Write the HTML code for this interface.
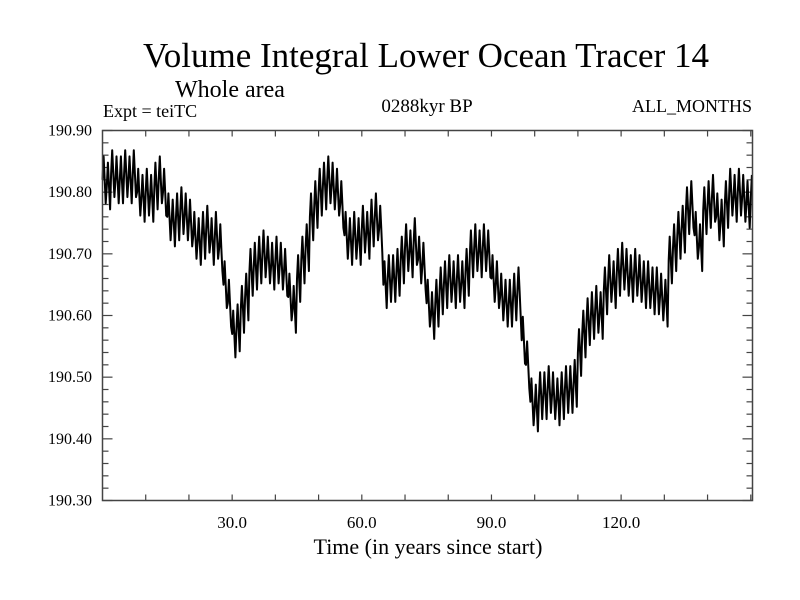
<!DOCTYPE html>
<html><head><meta charset="utf-8"><style>
html,body{margin:0;padding:0;background:#fff;}
svg{display:block;font-family:"Liberation Serif",serif;}
</style></head><body>
<svg id="chart" width="800" height="600" viewBox="0 0 800 600">
<rect width="800" height="600" fill="#fff"/>
<text x="426" y="67" font-size="35" text-anchor="middle">Volume Integral Lower Ocean Tracer 14</text>
<text x="175" y="97" font-size="24">Whole area</text>
<text x="103" y="117" font-size="18">Expt = teiTC</text>
<text x="427" y="112" font-size="19" text-anchor="middle">0288kyr BP</text>
<text x="752" y="112" font-size="18" text-anchor="end">ALL_MONTHS</text>
<g id="axes"></g>
<path id="series" fill="none" stroke="#000" stroke-width="2" stroke-linejoin="round"/>
<rect x="102.5" y="130.5" width="650" height="370" fill="none" stroke="#444" stroke-width="1.5"/>
<text x="428" y="554" font-size="22" text-anchor="middle">Time (in years since start)</text>
</svg>
<script>
const yearlyMeans = [190.82,190.81,190.83,190.82,190.82,190.83,190.82,190.83,190.80,190.79,190.80,190.79,190.81,190.82,190.80,190.76,190.75,190.76,190.77,190.76,190.75,190.73,190.72,190.73,190.74,190.72,190.73,190.71,190.65,190.62,190.57,190.58,190.61,190.63,190.67,190.68,190.69,190.70,190.69,190.68,190.69,190.68,190.67,190.63,190.61,190.66,190.69,190.71,190.76,190.78,190.80,190.81,190.82,190.81,190.80,190.78,190.73,190.72,190.73,190.72,190.74,190.73,190.75,190.76,190.74,190.65,190.66,190.66,190.67,190.69,190.71,190.70,190.72,190.69,190.68,190.62,190.60,190.62,190.64,190.65,190.66,190.65,190.66,190.65,190.67,190.70,190.71,190.70,190.71,190.70,190.66,190.65,190.63,190.62,190.62,190.63,190.64,190.56,190.52,190.46,190.45,190.47,190.47,190.48,190.47,190.46,190.47,190.48,190.48,190.49,190.54,190.57,190.59,190.60,190.61,190.60,190.64,190.66,190.65,190.67,190.68,190.67,190.66,190.67,190.66,190.65,190.65,190.64,190.64,190.63,190.62,190.69,190.71,190.73,190.74,190.77,190.78,190.73,190.71,190.77,190.78,190.79,190.76,190.75,190.78,190.80,190.79,190.80,190.79,190.78,190.79];
const seasonalAmp = [0.038];
const xTicks = [30, 60, 90, 120];
const xTickLabels = ["30.0", "60.0", "90.0", "120.0"];
const yTicks = [190.30, 190.40, 190.50, 190.60, 190.70, 190.80, 190.90];
const yTickLabels = ["190.30", "190.40", "190.50", "190.60", "190.70", "190.80", "190.90"];

const L=102.5, R=752.5, T=130.5, B=500.5;
const X0=0, X1=150.4, Y0=190.30, Y1=190.90;
const sx = v => L + (v - X0) / (X1 - X0) * (R - L);
const sy = v => B - (v - Y0) / (Y1 - Y0) * (B - T);
const NS = "http://www.w3.org/2000/svg";
const axes = document.getElementById('axes');
function mk(tag, attrs){ const e=document.createElementNS(NS,tag); for(const k in attrs) e.setAttribute(k,attrs[k]); axes.appendChild(e); return e; }

for (let v = 10; v < X1; v += 10) {
  const x = sx(v);
  const t1 = mk('line',{x1:x,y1:B,x2:x,y2:B-6,stroke:'#444','stroke-width':1.2});
  
  
  const t2 = mk('line',{x1:x,y1:T,x2:x,y2:T+6,stroke:'#444','stroke-width':1.2});
  
  
}
xTicks.forEach((v,i)=>{
  const t = mk('text',{x:sx(v),y:528,'font-size':17,'text-anchor':'middle'});
  t.textContent = xTickLabels[i];
  
  
});
for (let k = 0; k <= 30; k++) {
  const v = Y0 + k*0.02, y = sy(v), major = k%5===0;
  const a = mk('line',{x1:L,y1:y,x2:L+(major?10:6),y2:y,stroke:'#444','stroke-width':1.2});
  
  
  const b = mk('line',{x1:R,y1:y,x2:R-(major?10:6),y2:y,stroke:'#444','stroke-width':1.2});
  
  
}
yTicks.forEach((v,i)=>{
  const t = mk('text',{x:92,y:sy(v)+5,'font-size':16,'text-anchor':'end'});
  t.textContent = yTickLabels[i];
  
  
});

let d = '';
const amp = seasonalAmp[0];
yearlyMeans.forEach((m,i)=>{
  const pts = [[i, m],[i+0.25, m+amp],[i+0.5, m],[i+0.75, m-amp]];
  pts.forEach(([t,v])=>{ if (t<=X1) d += (d?'L':'M') + sx(t).toFixed(1) + ',' + sy(v).toFixed(1); });
});
document.getElementById('series').setAttribute('d', d);
</script>
</body></html>
